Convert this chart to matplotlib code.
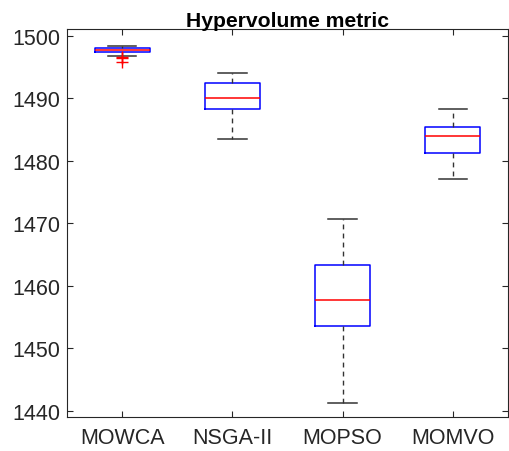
import matplotlib
matplotlib.use("Agg")
import matplotlib.pyplot as plt

plt.rcParams['font.family'] = ['Liberation Sans', 'DejaVu Sans']

# values
algorithms = ['MOWCA', 'NSGA-II', 'MOPSO', 'MOMVO']
medians = [1497.7, 1490.0, 1457.7, 1484.0]
q1 = [1497.35, 1488.3, 1453.5, 1481.3]
q3 = [1498.0, 1492.5, 1463.3, 1485.4]
whisker_low = [1496.75, 1483.4, 1441.3, 1477.0]
whisker_high = [1498.3, 1494.1, 1470.6, 1488.2]
outliers = [[1496.55, 1496.45, 1495.8], [], [], []]

stats = []
for i, name in enumerate(algorithms):
    stats.append({
        'label': name,
        'med': medians[i],
        'q1': q1[i],
        'q3': q3[i],
        'whislo': whisker_low[i],
        'whishi': whisker_high[i],
        'fliers': outliers[i],
    })

fig = plt.figure(figsize=(5.10, 4.52), dpi=100)
ax = fig.add_axes([67 / 510, 34 / 452, 441 / 510, 388.5 / 452])

ax.bxp(stats, positions=range(1, len(algorithms) + 1), widths=0.5,
       boxprops=dict(color='blue', linewidth=1.1),
       medianprops=dict(color='red', linewidth=1.1),
       whiskerprops=dict(color='#333333', linewidth=1.0, linestyle=(0, (3.5, 3))),
       capprops=dict(color='#333333', linewidth=1.1),
       capwidths=0.26,
       flierprops=dict(marker='+', markeredgecolor='red', markersize=8,
                       linestyle='none'))

ax.set_xlim(0.5, 4.5)
ax.set_ylim(1439.0, 1501.15)
ax.set_yticks([1440, 1450, 1460, 1470, 1480, 1490, 1500])
ax.set_xticks(range(1, len(algorithms) + 1))
ax.set_xticklabels(algorithms)

for sp in ax.spines.values():
    sp.set_color('#262626')
    sp.set_linewidth(0.8)
ax.tick_params(direction='in', length=4, width=0.8, color='#262626',
               labelcolor='#262626', labelsize=15.5, top=True, right=True)
ax.tick_params(axis='x', pad=7)
ax.tick_params(axis='y', pad=5)

ax.set_title('Hypervolume metric', fontsize=15.2, fontweight='bold', pad=2)

fig.savefig('out.png', dpi=100)
